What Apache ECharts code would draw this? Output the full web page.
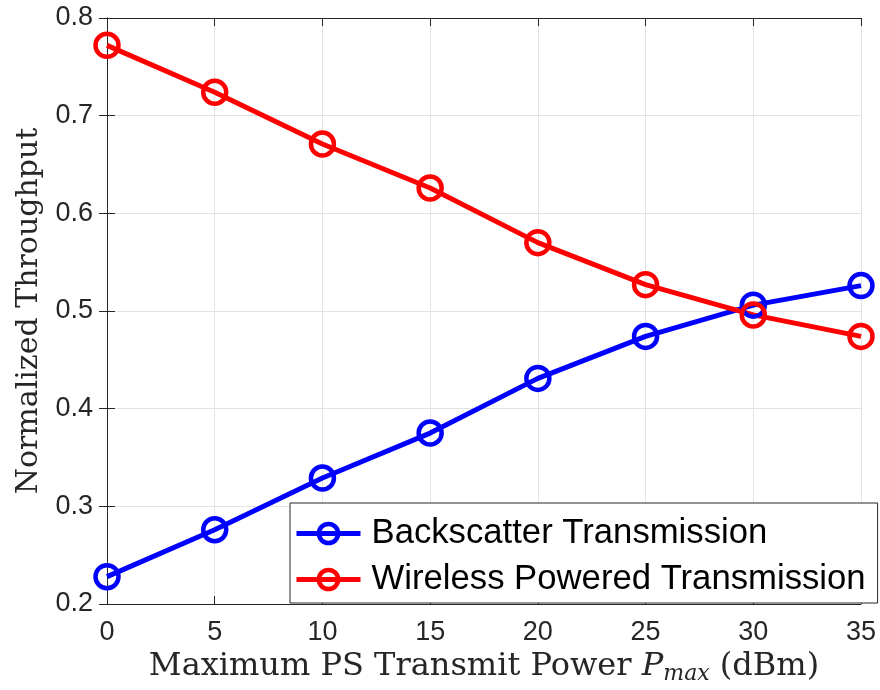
<!DOCTYPE html>
<html>
<head>
<meta charset="utf-8">
<script src="https://cdn.jsdelivr.net/npm/echarts@6/dist/echarts.min.js"></script>
<style>
  html, body { margin: 0; padding: 0; background: #fff; }
  #chart { width: 880px; height: 690px; }
</style>
</head>
<body>
<div id="chart"></div>
<script>
// Transmit power levels (dBm)
const powerLevels = [0, 5, 10, 15, 20, 25, 30, 35];
// Normalized throughput of each scheme
const backscatter = [0.228, 0.276, 0.329, 0.375, 0.431, 0.474, 0.506, 0.526];
const wirelessPowered = [0.772, 0.724, 0.671, 0.626, 0.570, 0.527, 0.496, 0.474];
const seriesNames = ['Backscatter Transmission', 'Wireless Powered Transmission'];
const seriesColors = ['#0000ff', '#ff0000'];

const chart = echarts.init(document.getElementById('chart'), null, { renderer: 'canvas' });

const tickFont = { fontFamily: 'Liberation Sans', fontSize: 27, color: '#262626' };
const serif = 'DejaVu Serif';

function pairs(values) {
  return powerLevels.map((p, i) => [p, values[i]]);
}

function lineSeries(name, values, color) {
  return {
    name: name,
    type: 'line',
    data: pairs(values),
    symbol: 'circle',
    symbolSize: 23,
    showAllSymbol: true,
    lineStyle: { color: color, width: 5 },
    itemStyle: { color: 'rgba(255,255,255,0)', borderColor: color, borderWidth: 4.5 },
    emphasis: { disabled: true },
    z: 3
  };
}

const frameAxis = {
  axisLine: { show: true, lineStyle: { color: '#262626', width: 1 } },
  axisTick: { show: true, inside: true, length: 8, lineStyle: { color: '#262626' } },
  axisLabel: { show: false },
  splitLine: { show: false }
};

chart.setOption({
  animation: false,
  backgroundColor: '#ffffff',
  grid: { left: 107, right: 19, top: 18, bottom: 86, outerBoundsMode: 'none' },
  xAxis: [
    {
      type: 'value', min: 0, max: 35, interval: 5,
      axisLine: { show: true, onZero: false, lineStyle: { color: '#262626', width: 1 } },
      axisTick: { show: true, inside: true, length: 8, lineStyle: { color: '#262626' } },
      axisLabel: Object.assign({ margin: 15 }, tickFont),
      splitLine: { show: true, lineStyle: { color: '#e3e3e3', width: 1 } },
      name: '{t|Maximum PS Transmit Power }{p|P}{s|max}{t| (dBm)}',
      nameLocation: 'middle',
      nameGap: 43,
      nameTextStyle: {
        rich: {
          t: { fontFamily: serif, fontSize: 32, color: '#262626' },
          p: { fontFamily: serif, fontSize: 32, fontStyle: 'italic', color: '#262626' },
          s: { fontFamily: serif, fontSize: 22, fontStyle: 'italic', color: '#262626', padding: [14, 0, 0, 0] }
        }
      }
    },
    Object.assign({ type: 'value', min: 0, max: 35, interval: 5, position: 'top' }, frameAxis)
  ],
  yAxis: [
    {
      type: 'value', min: 0.2, max: 0.8, interval: 0.1,
      axisLine: { show: true, onZero: false, lineStyle: { color: '#262626', width: 1 } },
      axisTick: { show: true, inside: true, length: 8, lineStyle: { color: '#262626' } },
      axisLabel: Object.assign({ margin: 14, formatter: v => v.toFixed(1) }, tickFont),
      splitLine: { show: true, lineStyle: { color: '#e3e3e3', width: 1 } },
      name: 'Normalized Throughput',
      nameLocation: 'middle',
      nameGap: 60,
      nameTextStyle: { fontFamily: serif, fontSize: 30, color: '#262626' }
    },
    Object.assign({ type: 'value', min: 0.2, max: 0.8, interval: 0.1, position: 'right' }, frameAxis)
  ],
  legend: {
    data: seriesNames,
    orient: 'vertical',
    left: 290,
    top: 503,
    padding: [13, 12, 6, 4],
    itemGap: 11,
    itemWidth: 64,
    itemHeight: 24,
    borderColor: '#262626',
    borderWidth: 1,
    backgroundColor: '#ffffff',
    lineStyle: { width: 5 },
    itemStyle: { borderWidth: 4.5 },
    textStyle: { fontFamily: 'Liberation Sans', fontSize: 34.7, color: '#000000', padding: [0, 0, 0, 6] }
  },
  series: [
    lineSeries(seriesNames[0], backscatter, seriesColors[0]),
    lineSeries(seriesNames[1], wirelessPowered, seriesColors[1])
  ]
});
</script>
</body>
</html>
